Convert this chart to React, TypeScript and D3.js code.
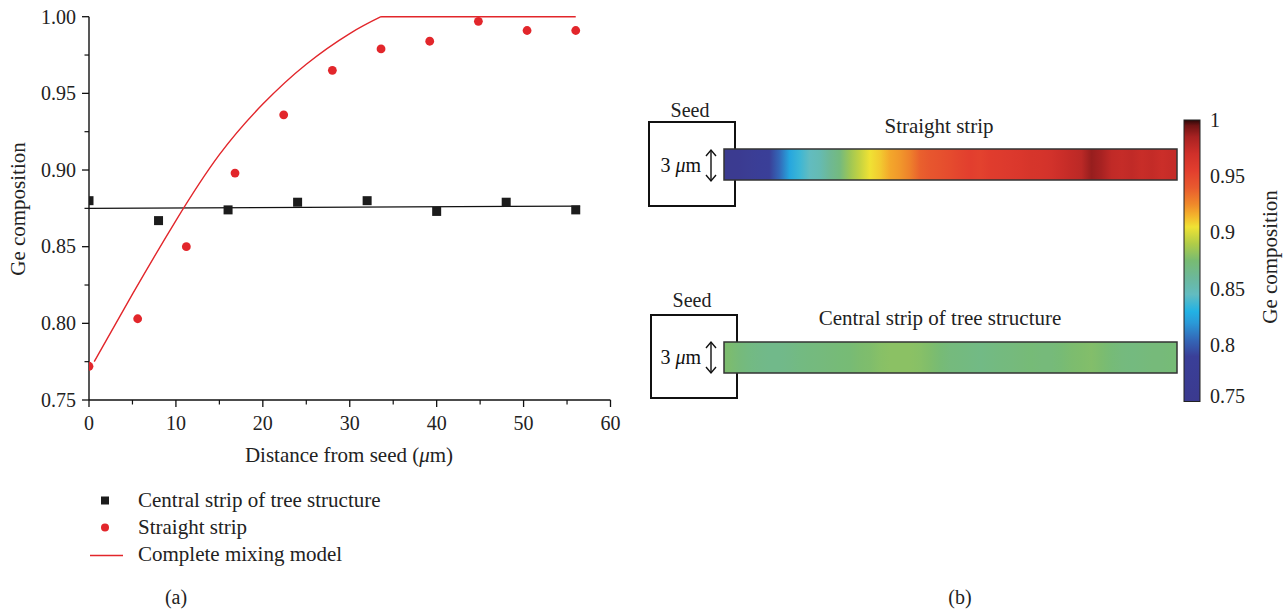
import React from "react";
import * as d3 from "d3";

// ---------- Data ----------
const treeX = [0, 8, 16, 24, 32, 40, 48, 56];
const treeGe = [0.880, 0.867, 0.874, 0.879, 0.880, 0.873, 0.879, 0.874];

const straightX = [0, 5.6, 11.2, 16.8, 22.4, 28, 33.6, 39.2, 44.8, 50.4, 56];
const straightGe = [0.772, 0.803, 0.850, 0.898, 0.936, 0.965, 0.979, 0.984, 0.997, 0.991, 0.991];

const fitX = [0, 56.5];
const fitGe = [0.875, 0.8765];

// complete mixing model: rising part, then saturated plateau
const modelRiseX = [0.6, 5, 10, 15, 20, 25, 30, 33.6];
const modelRiseGe = [0.775, 0.819, 0.867, 0.910, 0.943, 0.969, 0.989, 1.0];
const modelFlatX = [33.6, 56];
const modelFlatGe = [1.0, 1.0];

const xTicks = [0, 10, 20, 30, 40, 50, 60];
const yTicks = [0.75, 0.8, 0.85, 0.9, 0.95, 1.0];
const cbTicks = [0.75, 0.8, 0.85, 0.9, 0.95, 1];
const cbTickLabels = ["0.75", "0.8", "0.85", "0.9", "0.95", "1"];

// Ge composition sampled along the strips (seed side first)
const straightStripGe = [
  0.755, 0.76, 0.77, 0.785, 0.79, 0.805, 0.825, 0.836, 0.845, 0.85,
  0.862, 0.87, 0.885, 0.895, 0.905, 0.91, 0.918, 0.922, 0.928, 0.938,
  0.942, 0.945, 0.948, 0.952, 0.955, 0.953, 0.957, 0.958, 0.96, 0.962,
  0.965, 0.966, 0.968, 0.972, 0.975, 0.978, 0.988, 0.985, 0.976, 0.974,
  0.976, 0.973, 0.975, 0.972, 0.974,
];
const treeStripGe = [
  0.876, 0.872, 0.869, 0.867, 0.866, 0.866, 0.867, 0.869, 0.870, 0.871,
  0.872, 0.873, 0.874, 0.876, 0.877, 0.879, 0.880, 0.880, 0.880, 0.879,
  0.877, 0.874, 0.871, 0.870, 0.869, 0.868, 0.869, 0.870, 0.871, 0.872,
  0.873, 0.872, 0.872, 0.874, 0.876, 0.877, 0.878, 0.876, 0.873, 0.871,
  0.870, 0.871, 0.872, 0.872, 0.873,
];

// colormap of the colour bar
const cmapValues = [0.75, 0.79, 0.805, 0.82, 0.83, 0.845, 0.86, 0.875, 0.89, 0.905, 0.915, 0.925, 0.94, 0.955, 0.97, 0.985, 0.995, 1.0];
const cmapColors = ["#3b3a8f", "#3a3f98", "#3368b8", "#2a9ad8", "#22b2e4", "#62bcc0", "#6cb89a", "#78bb72", "#b0cc48", "#f0e234", "#f4b42c", "#f08a2a", "#e85a2e", "#e23e2e", "#d0302a", "#a82222", "#701414", "#2a0808"];

const FONT = "'Liberation Serif', 'Times New Roman', serif";
const RED = "#e2262b";
const DARK = "#1c1c1c";

export default function App() {
  const x = d3.scaleLinear().domain([0, 60]).range([89, 610.5]);
  const y = d3.scaleLinear().domain([0.75, 1.0]).range([400, 16.7]);
  const cmap = d3.scaleLinear<string>().domain(cmapValues).range(cmapColors).interpolate(d3.interpolateRgb);

  const riseLine = d3.line<number>().x((_, i) => x(modelRiseX[i])).y((d) => y(d)).curve(d3.curveNatural)(modelRiseGe) || "";
  const flatLine = d3.line<number>().x((_, i) => x(modelFlatX[i])).y((d) => y(d))(modelFlatGe) || "";
  const fitLine = d3.line<number>().x((_, i) => x(fitX[i])).y((d) => y(d))(fitGe) || "";

  const minorY = d3.range(0.775, 1.0, 0.05);
  const minorX = d3.range(5, 60, 10);

  const cb = d3.scaleLinear().domain([0.75, 1]).range([401.5, 120]);

  const stripStops = (vals: number[]) =>
    vals.map((v, i) => <stop key={i} offset={`${((i + 0.5) / vals.length) * 100}%`} stopColor={cmap(v)} />);

  const arrow = (cx: number, y0: number, y1: number) => (
    <g stroke="#111" strokeWidth={1.4} fill="none">
      <line x1={cx} x2={cx} y1={y0} y2={y1} />
      <polyline points={`${cx - 5},${y0 + 6} ${cx},${y0} ${cx + 5},${y0 + 6}`} />
      <polyline points={`${cx - 5},${y1 - 6} ${cx},${y1} ${cx + 5},${y1 - 6}`} />
    </g>
  );

  const umText = (xe: number, yb: number) => (
    <text x={xe} y={yb} textAnchor="end" fontSize={20} fontFamily={FONT} fill="#111">
      3 <tspan fontStyle="italic">μ</tspan>m
    </text>
  );

  return (
    <div style={{ position: "absolute", left: 0, top: 0 }}>
      <svg width={1287} height={611} style={{ display: "block", background: "#fff" }}>
        <defs>
          <clipPath id="plotClip">
            <rect x={89} y={0} width={540} height={402} />
          </clipPath>
          <linearGradient id="gStraight" x1="0" y1="0" x2="1" y2="0">{stripStops(straightStripGe)}</linearGradient>
          <linearGradient id="gTree" x1="0" y1="0" x2="1" y2="0">{stripStops(treeStripGe)}</linearGradient>
          <linearGradient id="gBar" x1="0" y1="1" x2="0" y2="0">
            {cmapValues.map((v, i) => (
              <stop key={i} offset={`${((v - 0.75) / 0.25) * 100}%`} stopColor={cmapColors[i]} />
            ))}
          </linearGradient>
        </defs>

        {/* ---------- Panel (a) ---------- */}
        <g fontFamily={FONT} fill="#222">
          {/* y axis */}
          <line x1={89} x2={89} y1={y(1.0)} y2={y(0.75)} stroke="#111" strokeWidth={1.4} />
          {yTicks.map((t) => (
            <g key={t}>
              <line x1={82} x2={89} y1={y(t)} y2={y(t)} stroke="#111" strokeWidth={1.3} />
              <text x={76} y={y(t)} dy="0.34em" textAnchor="end" fontSize={20}>{t.toFixed(2)}</text>
            </g>
          ))}
          {minorY.map((t) => (
            <line key={t} x1={84.5} x2={89} y1={y(t)} y2={y(t)} stroke="#111" strokeWidth={1.2} />
          ))}
          {/* x axis */}
          <line x1={x(0)} x2={x(60)} y1={400} y2={400} stroke="#111" strokeWidth={1.4} />
          {xTicks.map((t) => (
            <g key={t}>
              <line x1={x(t)} x2={x(t)} y1={400} y2={407} stroke="#111" strokeWidth={1.3} />
              <text x={x(t)} y={430} textAnchor="middle" fontSize={20}>{t}</text>
            </g>
          ))}
          {minorX.map((t) => (
            <line key={t} x1={x(t)} x2={x(t)} y1={400} y2={404.5} stroke="#111" strokeWidth={1.2} />
          ))}
          <text x={349} y={462} textAnchor="middle" fontSize={21}>
            Distance from seed (<tspan fontStyle="italic">μ</tspan>m)
          </text>
          <text transform="translate(25,209) rotate(-90)" textAnchor="middle" fontSize={21}>Ge composition</text>

          <g clipPath="url(#plotClip)">
            <path d={fitLine} fill="none" stroke="#111" strokeWidth={1.3} />
            <path d={riseLine} fill="none" stroke={RED} strokeWidth={1.4} />
            <path d={flatLine} fill="none" stroke={RED} strokeWidth={1.4} />
            {treeX.map((d, i) => (
              <rect key={i} x={x(d) - 4.5} y={y(treeGe[i]) - 4.5} width={9} height={9} fill={DARK} />
            ))}
            {straightX.map((d, i) => (
              <circle key={i} cx={x(d)} cy={y(straightGe[i])} r={4.4} fill={RED} />
            ))}
          </g>

          {/* legend */}
          <rect x={101} y={496.5} width={8} height={8} fill={DARK} />
          <text x={138} y={507} fontSize={21}>Central strip of tree structure</text>
          <circle cx={105} cy={527.5} r={4} fill={RED} />
          <text x={138} y={534} fontSize={21}>Straight strip</text>
          <line x1={90} x2={123} y1={555.5} y2={555.5} stroke={RED} strokeWidth={1.4} />
          <text x={138} y={561} fontSize={21}>Complete mixing model</text>

          <text x={176} y={604} textAnchor="middle" fontSize={20}>(a)</text>
        </g>

        {/* ---------- Panel (b) ---------- */}
        <g fontFamily={FONT} fill="#222">
          {/* top: straight strip */}
          <text x={690} y={117} textAnchor="middle" fontSize={20}>Seed</text>
          <rect x={649} y={122} width={86} height={84} fill="#fff" stroke="#111" strokeWidth={2} />
          <text x={939} y={133} textAnchor="middle" fontSize={21}>Straight strip</text>
          <rect x={724} y={149} width={453} height={31} fill="url(#gStraight)" stroke="#333" strokeWidth={1.5} />
          {umText(701, 172)}
          {arrow(711, 150, 181)}

          {/* bottom: tree strip */}
          <text x={692} y={307} textAnchor="middle" fontSize={20}>Seed</text>
          <rect x={651} y={315} width={86} height={83} fill="#fff" stroke="#111" strokeWidth={2} />
          <text x={940} y={325} textAnchor="middle" fontSize={21}>Central strip of tree structure</text>
          <rect x={724} y={342} width={453} height={31} fill="url(#gTree)" stroke="#333" strokeWidth={1.5} />
          {umText(701, 364)}
          {arrow(711, 342, 373)}

          {/* colour bar */}
          <rect x={1184} y={cb(1)} width={16} height={cb(0.75) - cb(1)} fill="url(#gBar)" stroke="#222" strokeWidth={1} />
          {cbTicks.map((t, i) => (
            <text key={t} x={1210} y={Math.min(cb(t), 396)} dy="0.34em" fontSize={20}>{cbTickLabels[i]}</text>
          ))}
          <text transform="translate(1277,257) rotate(-90)" textAnchor="middle" fontSize={21}>Ge composition</text>

          <text x={960} y={604} textAnchor="middle" fontSize={20}>(b)</text>
        </g>
      </svg>
    </div>
  );
}
